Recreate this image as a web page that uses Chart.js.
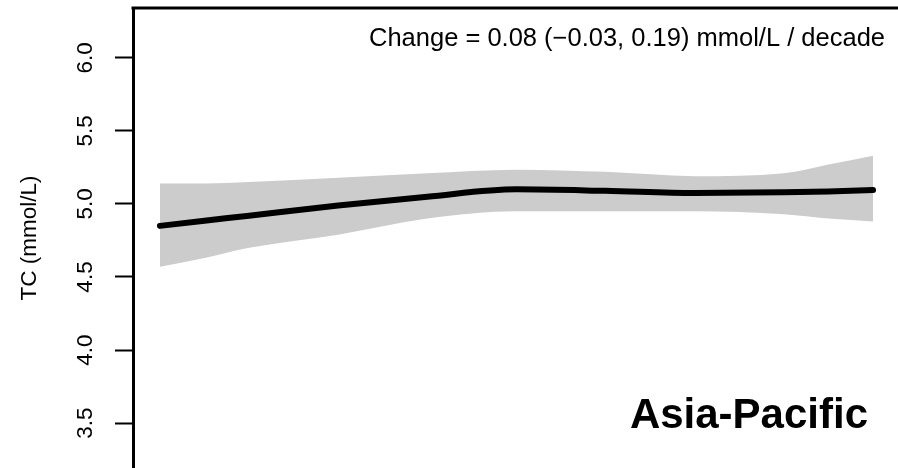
<!DOCTYPE html>
<html>
<head>
<meta charset="utf-8">
<script src="https://cdn.jsdelivr.net/npm/chart.js@4/dist/chart.umd.min.js"></script>
<style>
  html, body { margin: 0; padding: 0; background: #fff; }
  #wrap { width: 898px; height: 468px; }
</style>
</head>
<body>
<div id="wrap"><canvas id="tcChart"></canvas></div>
<script>
// data (TC, mmol/L)
const years = [1980, 1982.5, 1985, 1990, 1995, 2000, 2005, 2010, 2015, 2017.5, 2020];
const fitValues = [4.85, 4.885, 4.92, 4.99, 5.05, 5.10, 5.09, 5.075, 5.08, 5.085, 5.095];
const upperValues = [5.14, 5.14, 5.15, 5.18, 5.21, 5.235, 5.22, 5.19, 5.21, 5.27, 5.33];
const lowerValues = [4.57, 4.63, 4.70, 4.79, 4.90, 4.95, 4.95, 4.95, 4.93, 4.90, 4.88];
const yTicks = [3.5, 4.0, 4.5, 5.0, 5.5, 6.0];
const changeText = 'Change = 0.08 (\u22120.03, 0.19) mmol/L / decade';
const regionText = 'Asia-Pacific';

const FONT = '"Liberation Sans", Arial, Helvetica, sans-serif';

const toPoints = (vals) => years.map((x, i) => ({ x: x, y: vals[i] }));

// top frame line + the two labels
const frameAndText = {
  id: 'frameAndText',
  afterDraw(chart) {
    const { ctx, chartArea } = chart;
    ctx.save();
    ctx.strokeStyle = '#000';
    ctx.lineWidth = 3;
    ctx.beginPath();
    ctx.moveTo(chartArea.left - 1.5, chartArea.top);
    ctx.lineTo(chart.width, chartArea.top);
    ctx.stroke();

    ctx.fillStyle = '#000';
    ctx.textAlign = 'right';
    ctx.textBaseline = 'alphabetic';
    ctx.font = '25.5px ' + FONT;
    ctx.fillText(changeText, 885, 46);
    ctx.font = 'bold 42px ' + FONT;
    ctx.fillText(regionText, 868, 428);
    ctx.restore();
  }
};

const ctx = document.getElementById('tcChart').getContext('2d');

new Chart(ctx, {
  type: 'line',
  data: {
    datasets: [
      {
        label: 'fit',
        data: toPoints(fitValues),
        borderColor: '#000',
        borderWidth: 6,
        borderCapStyle: 'round',
        pointRadius: 0,
        cubicInterpolationMode: 'monotone',
        fill: false
      },
      {
        label: 'upper',
        data: toPoints(upperValues),
        borderWidth: 0,
        borderColor: 'rgba(0,0,0,0)',
        backgroundColor: '#cccccc',
        pointRadius: 0,
        cubicInterpolationMode: 'monotone',
        fill: '+1'
      },
      {
        label: 'lower',
        data: toPoints(lowerValues),
        borderWidth: 0,
        borderColor: 'rgba(0,0,0,0)',
        pointRadius: 0,
        cubicInterpolationMode: 'monotone',
        fill: false
      }
    ]
  },
  options: {
    responsive: true,
    maintainAspectRatio: false,
    animation: false,
    layout: { padding: { top: 8, right: 0, bottom: 0, left: 0 } },
    plugins: {
      legend: { display: false },
      tooltip: { enabled: false }
    },
    scales: {
      x: {
        type: 'linear',
        display: false,
        min: 1978.49,
        max: 2021.40
      },
      y: {
        type: 'linear',
        min: 3.192,
        max: 6.342,
        afterFit(scale) {
          scale.width = 133;
          scale.paddingTop = 0;
          scale.paddingBottom = 0;
        },
        afterBuildTicks(scale) { scale.ticks = yTicks.map(v => ({ value: v })); },
        border: { display: true, color: '#000', width: 3 },
        grid: {
          drawOnChartArea: false,
          drawTicks: true,
          tickLength: 18,
          tickWidth: 2,
          tickColor: '#000'
        },
        ticks: {
          color: '#000',
          font: { family: FONT, size: 22.5 },
          minRotation: 90,
          maxRotation: 90,
          crossAlign: 'center',
          padding: 14,
          callback: (v) => Number(v).toFixed(1)
        },
        title: {
          display: true,
          text: 'TC (mmol/L)',
          color: '#000',
          font: { family: FONT, size: 22.5 },
          padding: { top: 16, bottom: 0 }
        }
      }
    }
  },
  plugins: [frameAndText]
});
</script>
</body>
</html>
